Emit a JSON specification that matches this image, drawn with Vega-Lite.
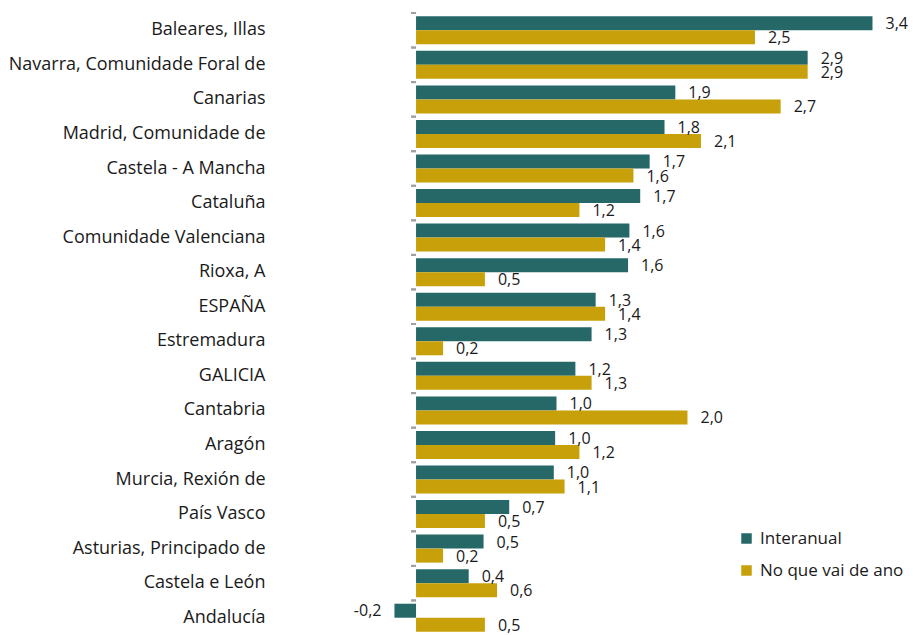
{
  "$schema": "https://vega.github.io/schema/vega-lite/v6.json",
  "width": 632,
  "height": 622,
  "autosize": "none",
  "padding": {"left": 281, "top": 13, "right": 0, "bottom": 0},
  "data": {
    "values": [
      {"region": "Baleares, Illas", "series": "Interanual", "value": 3.38},
      {"region": "Baleares, Illas", "series": "No que vai de ano", "value": 2.51},
      {"region": "Navarra, Comunidade Foral de", "series": "Interanual", "value": 2.9},
      {"region": "Navarra, Comunidade Foral de", "series": "No que vai de ano", "value": 2.9},
      {"region": "Canarias", "series": "Interanual", "value": 1.92},
      {"region": "Canarias", "series": "No que vai de ano", "value": 2.7},
      {"region": "Madrid, Comunidade de", "series": "Interanual", "value": 1.84},
      {"region": "Madrid, Comunidade de", "series": "No que vai de ano", "value": 2.11},
      {"region": "Castela - A Mancha", "series": "Interanual", "value": 1.73},
      {"region": "Castela - A Mancha", "series": "No que vai de ano", "value": 1.61},
      {"region": "Cataluña", "series": "Interanual", "value": 1.66},
      {"region": "Cataluña", "series": "No que vai de ano", "value": 1.21},
      {"region": "Comunidade Valenciana", "series": "Interanual", "value": 1.58},
      {"region": "Comunidade Valenciana", "series": "No que vai de ano", "value": 1.4},
      {"region": "Rioxa, A", "series": "Interanual", "value": 1.57},
      {"region": "Rioxa, A", "series": "No que vai de ano", "value": 0.51},
      {"region": "ESPAÑA", "series": "Interanual", "value": 1.33},
      {"region": "ESPAÑA", "series": "No que vai de ano", "value": 1.4},
      {"region": "Estremadura", "series": "Interanual", "value": 1.3},
      {"region": "Estremadura", "series": "No que vai de ano", "value": 0.2},
      {"region": "GALICIA", "series": "Interanual", "value": 1.18},
      {"region": "GALICIA", "series": "No que vai de ano", "value": 1.3},
      {"region": "Cantabria", "series": "Interanual", "value": 1.04},
      {"region": "Cantabria", "series": "No que vai de ano", "value": 2.01},
      {"region": "Aragón", "series": "Interanual", "value": 1.03},
      {"region": "Aragón", "series": "No que vai de ano", "value": 1.21},
      {"region": "Murcia, Rexión de", "series": "Interanual", "value": 1.02},
      {"region": "Murcia, Rexión de", "series": "No que vai de ano", "value": 1.1},
      {"region": "País Vasco", "series": "Interanual", "value": 0.69},
      {"region": "País Vasco", "series": "No que vai de ano", "value": 0.51},
      {"region": "Asturias, Principado de", "series": "Interanual", "value": 0.5},
      {"region": "Asturias, Principado de", "series": "No que vai de ano", "value": 0.2},
      {"region": "Castela e León", "series": "Interanual", "value": 0.39},
      {"region": "Castela e León", "series": "No que vai de ano", "value": 0.6},
      {"region": "Andalucía", "series": "Interanual", "value": -0.16},
      {"region": "Andalucía", "series": "No que vai de ano", "value": 0.51}
    ]
  },
  "encoding": {
    "y": {
      "field": "region", "type": "nominal", "sort": null,
      "scale": {"paddingInner": 0, "paddingOuter": 0},
      "axis": {"title": null, "ticks": false, "domain": false, "labelPadding": 16, "labelFontSize": 18, "labelColor": "#1a1a1a", "labelFont": "Open Sans", "labelLimit": 400}
    }
  },
  "layer": [
    {
      "mark": {"type": "bar"},
      "encoding": {
        "x": {"field": "value", "type": "quantitative", "scale": {"domain": [-1, 3.68], "nice": false, "zero": false}, "axis": null},
        "yOffset": {"field": "series", "type": "nominal", "sort": null, "scale": {"paddingInner": 0, "paddingOuter": 0.234}},
        "color": {
          "field": "series", "type": "nominal", "sort": null,
          "scale": {"domain": ["Interanual", "No que vai de ano"], "range": ["#266868", "#c8a00a"]},
          "legend": {"title": null, "orient": "none", "legendX": 457, "legendY": 517, "symbolType": "square", "symbolSize": 110, "labelFontSize": 17, "labelFont": "Open Sans", "labelColor": "#1a1a1a", "rowPadding": 14, "labelOffset": 5, "symbolStrokeWidth": 0}
        }
      }
    },
    {
      "transform": [{"filter": "datum.value >= 0"}],
      "mark": {"type": "text", "align": "left", "baseline": "middle", "dx": 13, "dy": 1, "fontSize": 16, "font": "Open Sans", "color": "#1a1a1a"},
      "encoding": {
        "x": {"field": "value", "type": "quantitative"},
        "yOffset": {"field": "series", "type": "nominal", "sort": null},
        "text": {"field": "value", "type": "quantitative", "format": ".1f"}
      }
    },
    {
      "transform": [{"filter": "datum.value < 0"}],
      "mark": {"type": "text", "align": "right", "baseline": "middle", "dx": -13, "fontSize": 16, "font": "Open Sans", "color": "#1a1a1a"},
      "encoding": {
        "x": {"field": "value", "type": "quantitative"},
        "yOffset": {"field": "series", "type": "nominal", "sort": null},
        "text": {"field": "value", "type": "quantitative", "format": ".1f"}
      }
    },
    {
      "mark": {"type": "rule", "color": "#a0a0a0", "strokeWidth": 2},
      "encoding": {
        "x": {"datum": 0},
        "x2": {"datum": -0.037},
        "y": {"field": "region", "type": "nominal", "sort": null, "bandPosition": 0}
      }
    },
    {
      "mark": {"type": "rule", "color": "#a0a0a0", "strokeWidth": 2},
      "encoding": {
        "x": {"datum": 0}
      }
    }
  ],
  "config": {
    "view": {"stroke": null},
    "locale": {"number": {"decimal": ",", "thousands": ".", "grouping": [3], "currency": ["", " €"], "minus": "-"}}
  }
}
